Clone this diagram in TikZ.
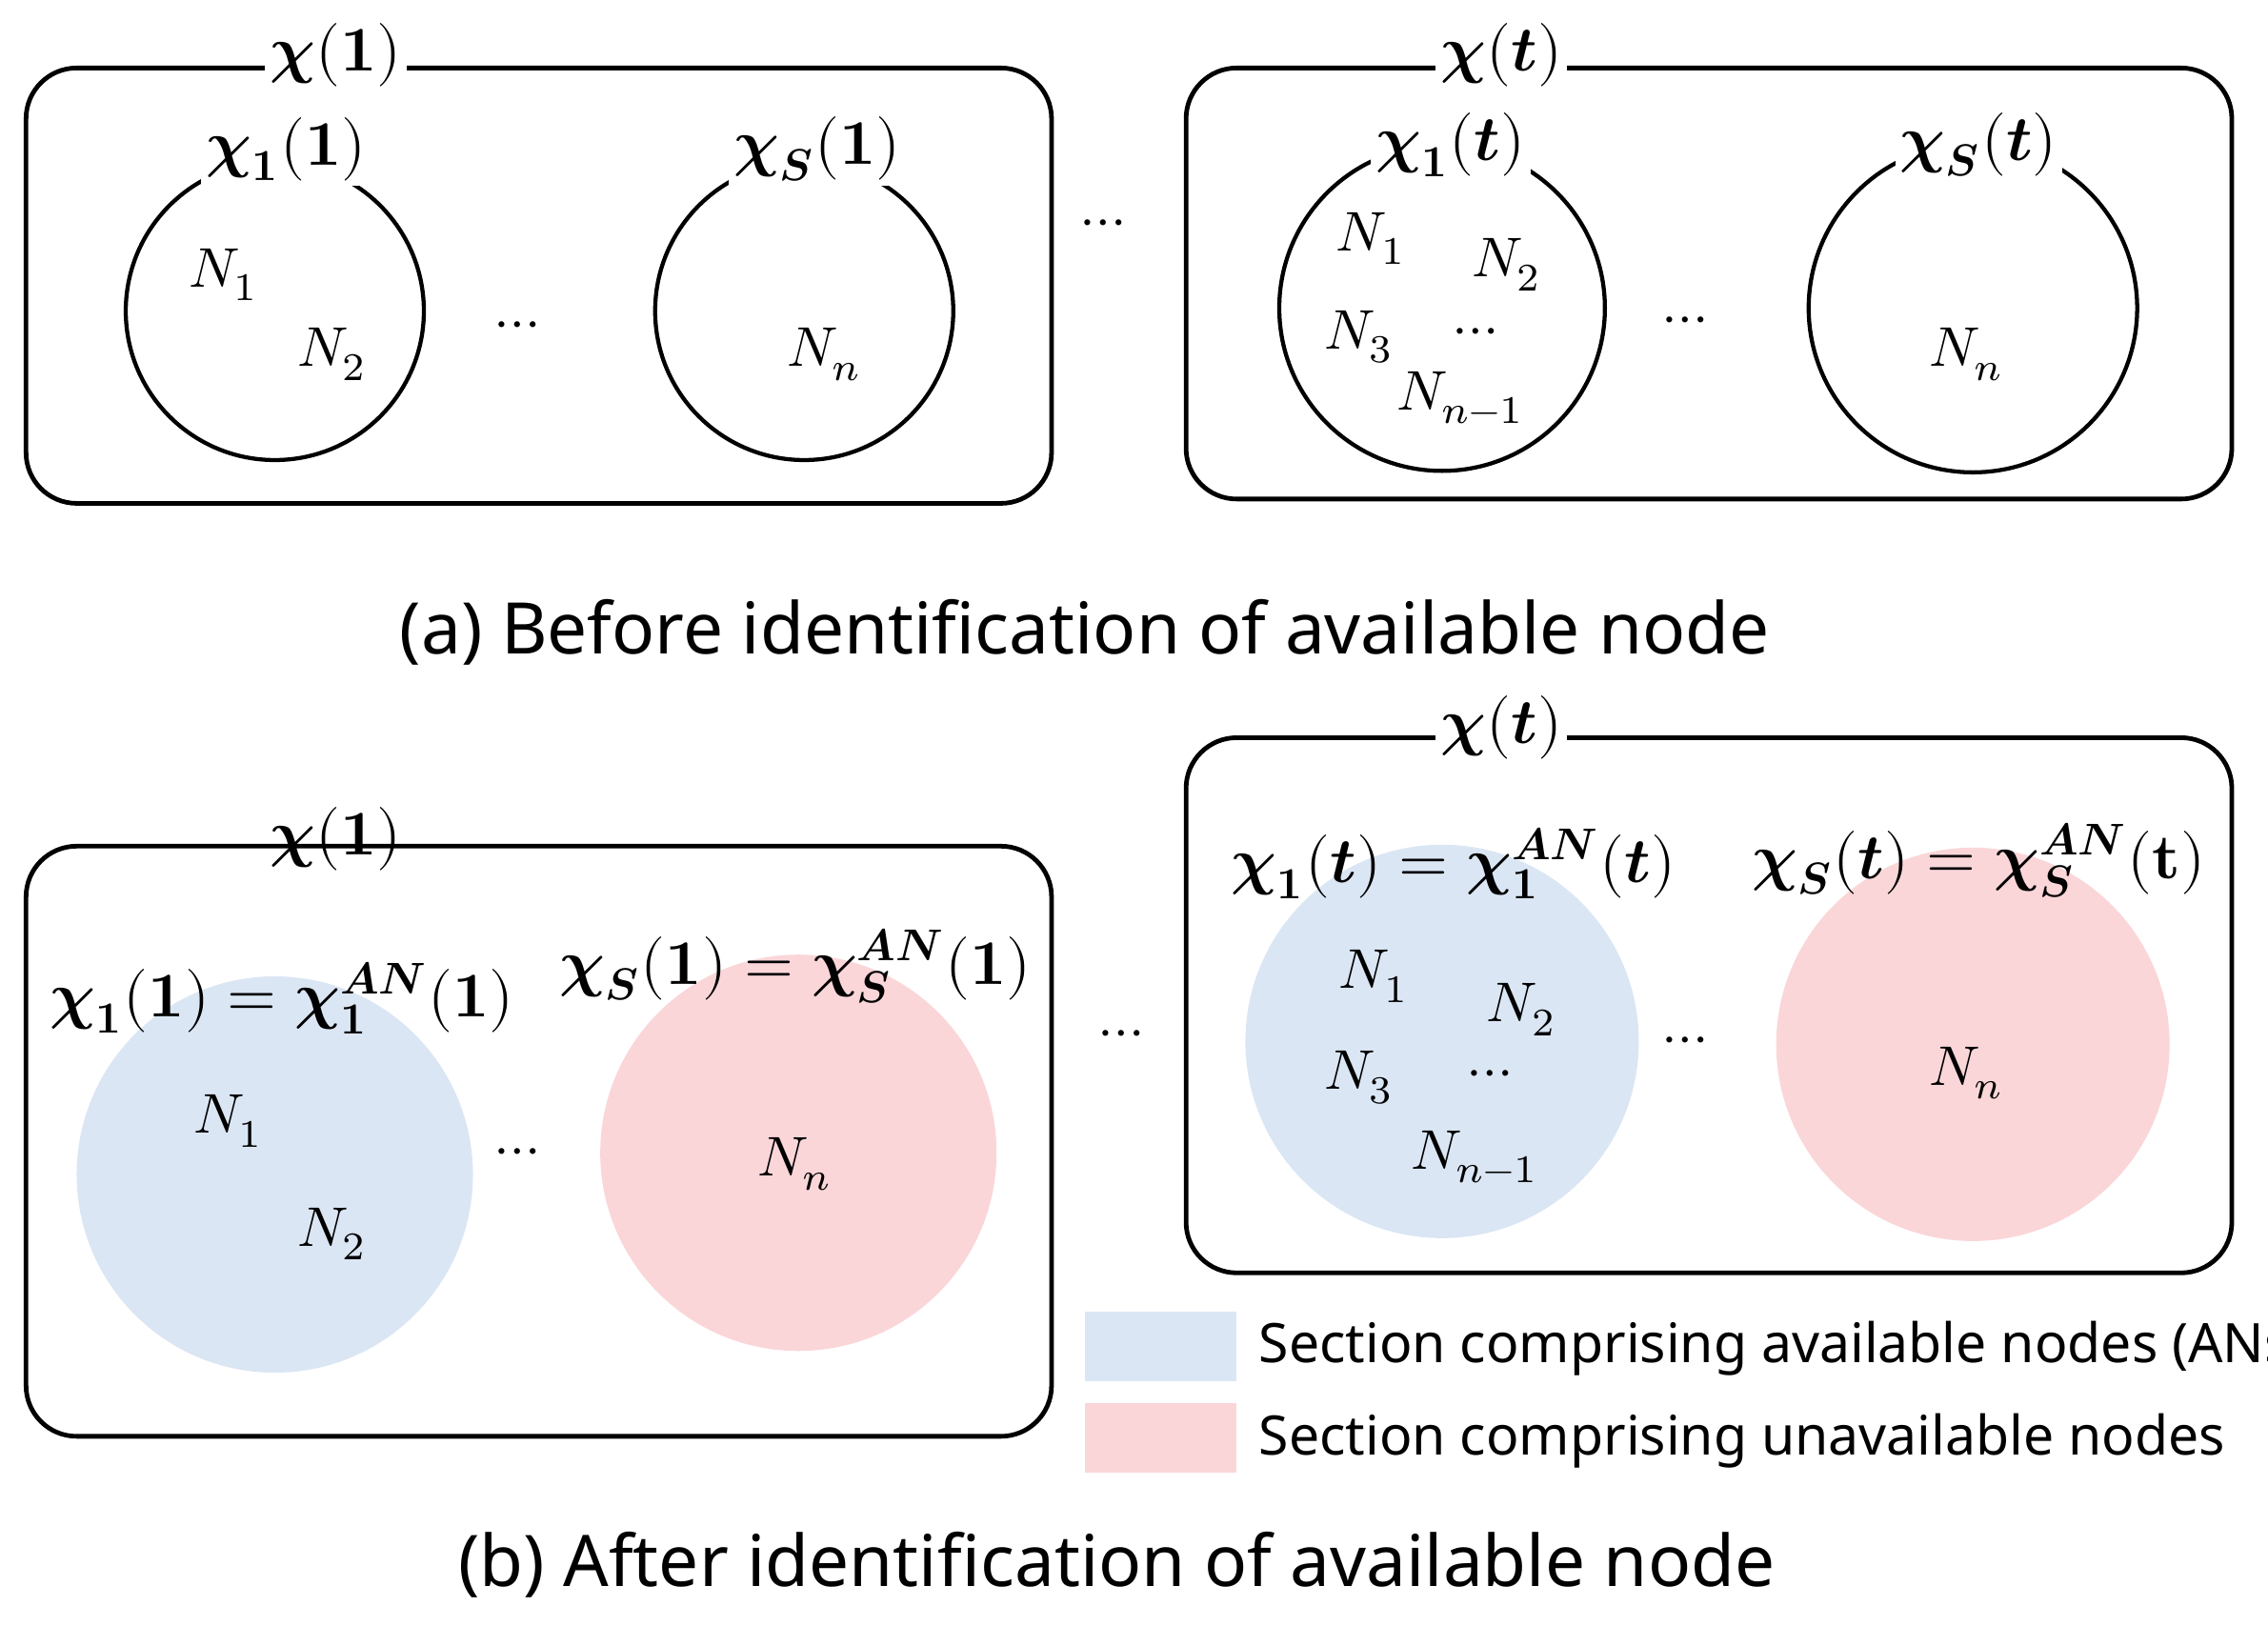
\documentclass[tikz,border=0pt]{standalone}
\usepackage{amsmath}
\usepackage{fontspec}
\setmainfont{Noto Sans}
\usepackage{unicode-math}
\setmathfont{Latin Modern Math}
\definecolor{anblue}{RGB}{219,230,244}
\definecolor{unred}{RGB}{250,214,217}
\begin{document}
\begin{tikzpicture}[x=0.01cm,y=-0.01cm,
  box/.style={draw,line width=0.9pt,rounded corners=0.35cm},
  circ/.style={draw,line width=0.8pt,circle},
  lab/.style={font=\fontsize{12.5}{15}\selectfont,inner sep=1pt},
  nl/.style={font=\fontsize{11}{13}\selectfont},
  captxt/.style={font=\fontsize{14}{17}\selectfont},
  legtxt/.style={anchor=west,font=\fontsize{10.7}{13}\selectfont}]
\useasboundingbox (0,0) rectangle (1568,1124);
% (a) left
\draw[box] (18,47) rectangle (727,348);
\node[lab,fill=white] (ta1) at (232,38) {$\symbfit{\chi}\symbf{(1)}$};
\node[circ,minimum size=2.06cm] (ca1) at (190,215) {};
\node[circ,minimum size=2.06cm] (ca2) at (556,215) {};
\node[lab,fill=white] (la1) at (198,103) {$\symbfit{\chi}_{\symbf{1}}\symbf{(1)}$};
\node[lab,fill=white] (la2) at (565,103) {$\symbfit{\chi}_{\symbfit{S}}\symbf{(1)}$};
\node[nl] (a11) at (155,190) {$N_1$};
\node[nl] (a12) at (230,245) {$N_2$};
\node[nl] (ad1) at (358,228) {$\cdots$};
\node[nl] (a1n) at (570,245) {$N_n$};
\node[nl] (adm) at (763,158) {$\cdots$};
% (a) right
\draw[box] (820,47) rectangle (1543,345);
\node[lab,fill=white] (ta2) at (1038,38) {$\symbfit{\chi}\symbf{(}\symbfit{t}\symbf{)}$};
\node[circ,minimum size=2.25cm] (ca3) at (997,213) {};
\node[circ,minimum size=2.27cm] (ca4) at (1364,213) {};
\node[lab,fill=white] (la3) at (1003,100) {$\symbfit{\chi}_{\symbf{1}}\symbf{(}\symbfit{t}\symbf{)}$};
\node[lab,fill=white] (la4) at (1368,100) {$\symbfit{\chi}_{\symbfit{S}}\symbf{(}\symbfit{t}\symbf{)}$};
\node[nl] (a21) at (948,165) {$N_1$};
\node[nl] (a22) at (1042,183) {$N_2$};
\node[nl] (a23) at (940,233) {$N_3$};
\node[nl] (ad2) at (1020,233) {$\cdots$};
\node[nl] (a2m) at (1010,275) {$N_{n-1}$};
\node[nl] (ad3) at (1165,225) {$\cdots$};
\node[nl] (a2n) at (1360,245) {$N_n$};
\node[captxt] (capa) at (750,437) {(a) Before identification of available node};
% (b) left
\draw[box] (18,585) rectangle (727,993);
\node[lab] (tb1) at (232,580) {$\symbfit{\chi}\symbf{(1)}$};
\fill[anblue] (190,812) circle (137);
\fill[unred] (552,797) circle (137);
\node[lab] (lb1) at (195,690) {$\symbfit{\chi}_{\symbf{1}}\symbf{(1)=}\symbfit{\chi}_{\symbf{1}}^{\symbfit{AN}}\symbf{(1)}$};
\node[lab] (lb2) at (550,668) {$\symbfit{\chi}_{\symbfit{S}}\symbf{(1)=}\symbfit{\chi}_{\symbfit{S}}^{\symbfit{AN}}\symbf{(1)}$};
\node[nl] (b11) at (158,775) {$N_1$};
\node[nl] (b12) at (230,853) {$N_2$};
\node[nl] (bd1) at (358,800) {$\cdots$};
\node[nl] (b1n) at (550,805) {$N_n$};
\node[nl] (bdm) at (775,718) {$\cdots$};
% (b) right
\draw[box] (820,510) rectangle (1543,880);
\node[lab,fill=white] (tb2) at (1038,503) {$\symbfit{\chi}\symbf{(}\symbfit{t}\symbf{)}$};
\fill[anblue] (997,720) circle (136);
\fill[unred] (1364,722) circle (136);
\node[lab] (lb3) at (1005,597) {$\symbfit{\chi}_{\symbf{1}}\symbf{(}\symbfit{t}\symbf{)=}\symbfit{\chi}_{\symbf{1}}^{\symbfit{AN}}\symbf{(}\symbfit{t}\symbf{)}$};
\node[lab] (lb4) at (1368,595) {$\symbfit{\chi}_{\symbfit{S}}\symbf{(}\symbfit{t}\symbf{)=}\symbfit{\chi}_{\symbfit{S}}^{\symbfit{AN}}\symbf{(t)}$};
\node[nl] (b21) at (950,675) {$N_1$};
\node[nl] (b22) at (1052,698) {$N_2$};
\node[nl] (b23) at (940,745) {$N_3$};
\node[nl] (bd2) at (1030,746) {$\cdots$};
\node[nl] (b2m) at (1020,800) {$N_{n-1}$};
\node[nl] (bd3) at (1165,723) {$\cdots$};
\node[nl] (b2n) at (1360,742) {$N_n$};
% legend
\fill[anblue] (750,907) rectangle (855,955);
\fill[unred] (750,970) rectangle (855,1018);
\node[legtxt] (lg1) at (858,932) {Section comprising available nodes (ANs)};
\node[legtxt] (lg2) at (858,996) {Section comprising unavailable nodes};
\node[captxt] (capb) at (772,1082) {(b) After identification of available node};
\end{tikzpicture}
\end{document}
